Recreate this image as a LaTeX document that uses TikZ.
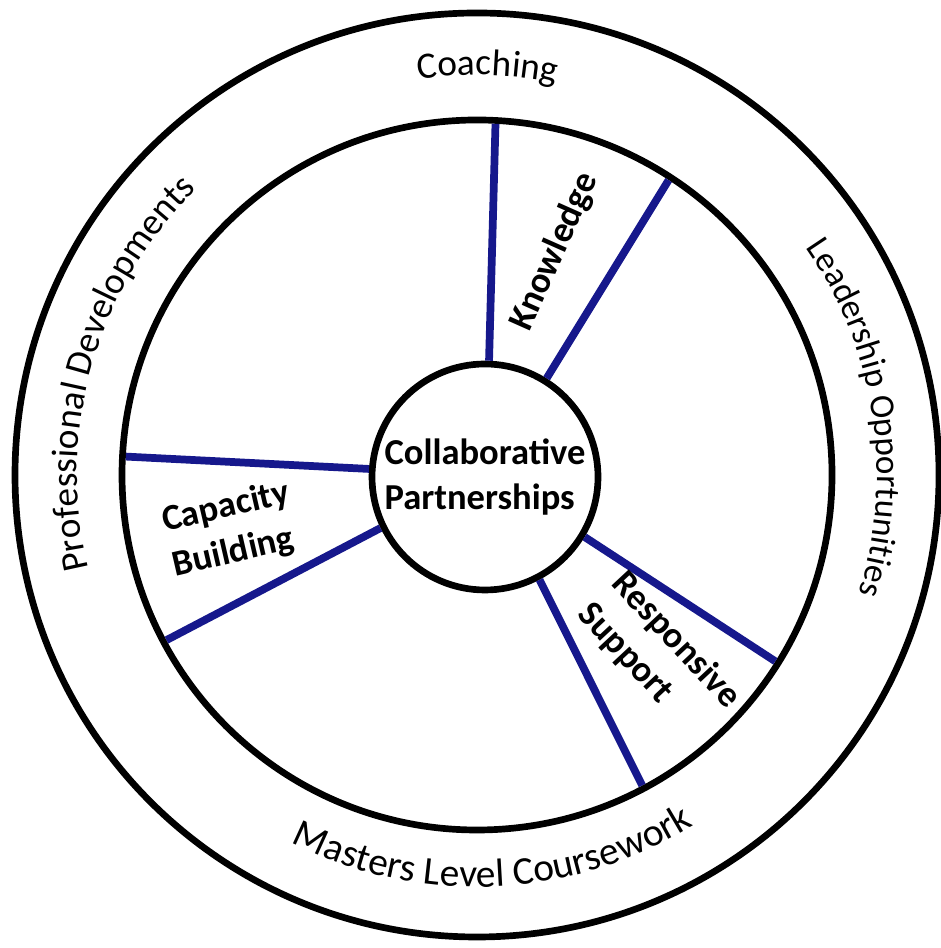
\documentclass[tikz,border=0pt]{standalone}
\usepackage{fontspec}
\setmainfont{Carlito}
\usepackage{tikz}
\usetikzlibrary{decorations.text}
\definecolor{spokeblue}{RGB}{22,24,140}
\tikzset{
  ringline/.style ={circle, draw=black, line width=1.9pt, inner sep=0pt,
                    outer sep=0pt},
  hubnode/.style  ={ringline, minimum size=2.26cm, align=left,
                    font=\bfseries\fontsize{10.4}{12.6}\selectfont},
  sector/.style   ={inner sep=0pt, align=left,
                    font=\bfseries\fontsize{10.4}{13}\selectfont},
  spoke/.style    ={line width=2.2pt, draw=spokeblue,
                    shorten <=0.95pt, shorten >=0.95pt},
  ringtext/.style 2 args={decorate, decoration={text along path,
                    text align=center, text={|\fontsize{#1}{12}\selectfont|#2}}}
}
\begin{document}
\begin{tikzpicture}
  \useasboundingbox (0,0) rectangle (9.40,9.48);
  \coordinate (ctr) at (4.77,4.73);
  \node[ringline, minimum size=9.24cm] (outer) at (ctr) {};
  \node[ringline, minimum size=7.10cm] (ring)  at (ctr) {};
  \node[hubnode] (hub) at (4.85,4.71) {Collaborative\\Partnerships};
  % spokes between hub and ring
  \draw[spoke] (hub.88.5)  -- (ring.87.1);
  \draw[spoke] (hub.58.3)  -- (ring.57.2);
  \draw[spoke] (hub.176.5) -- (ring.177.6);
  \draw[spoke] (hub.206.6) -- (ring.208.8);
  \draw[spoke] (hub.298.4) -- (ring.298.8);
  \draw[spoke] (hub.329.5) -- (ring.328.5);
  % sector labels
  \node[sector, rotate=66]  (know) at (5.55,6.96) {Knowledge};
  \node[sector, rotate=13]  (cap)  at (2.31,4.18) {Capacity\\Building};
  \node[sector, rotate=-47] (resp) at (6.59,2.92) {Responsive\\Support};
  % texts round the outer ring
  \path[ringtext={10.6}{Coaching}] (ctr) ++(128.5:4.0)
    arc[start angle=128.5, end angle=48.5, radius=4.0];
  \path[ringtext={10.6}{Professional Developments}] (ctr) ++(214:4.0)
    arc[start angle=214, end angle=114, radius=4.0];
  \path[ringtext={10.0}{Leadership Opportunities}] (ctr) ++(58.75:4.0)
    arc[start angle=58.75, end angle=-41.25, radius=4.0];
  \path[ringtext={11.2}{Masters Level Coursework}] (ctr) ++(222.5:4.12)
    arc[start angle=222.5, end angle=322.5, radius=4.12];
\end{tikzpicture}
\end{document}
